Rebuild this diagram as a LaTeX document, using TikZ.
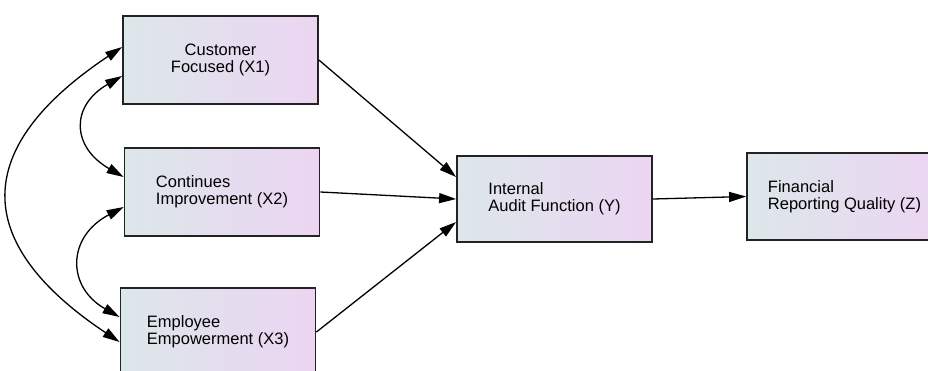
\documentclass[tikz,border=0pt]{standalone}
\usepackage{fontspec}
\setmainfont{Liberation Sans}
\usetikzlibrary{arrows.meta}
\definecolor{boxleft}{RGB}{220,231,234}
\definecolor{boxright}{RGB}{236,213,242}
\definecolor{boxedge}{RGB}{35,35,35}
\tikzset{
  varbox/.style={draw=boxedge, line width=1.8pt, minimum width=195pt, minimum height=88pt,
    left color=boxleft, right color=boxright, inner sep=0pt,
    font=\fontsize{16.5}{17}\selectfont},
  link/.style={line width=1.3pt, -{Triangle[length=17pt,width=10pt]}},
  covar/.style={line width=1.3pt, {Triangle[length=17pt,width=10pt]}-{Triangle[length=17pt,width=10pt]}}
}
\begin{document}
\begin{tikzpicture}[x=1pt,y=-1pt]
\useasboundingbox (0,0) rectangle (928,370);
\node[varbox, align=center] (x1) at (220.5,60) {Customer\\Focused (X1)};
\node[varbox, align=left] (x2) at (222,192) {Continues\\Improvement (X2)};
\node[varbox, align=left] (x3) at (218,332) {Employee\\Empowerment (X3)};
\node[varbox, align=left, minimum height=86pt] (y) at (554.5,199) {Internal\\Audit Function (Y)};
\node[varbox, align=left, minimum height=87pt] (z) at (844.5,196.5) {Financial\\Reporting Quality (Z)};

\draw[link] (x1.east) -- ([yshift=22pt]y.west);
\draw[link] (x2.east) -- (y.west);
\draw[link] (x3.east) -- ([yshift=-23pt]y.west);
\draw[link] (y.east) -- (z.west);

\draw[covar] ([yshift=-16pt]x1.west) .. controls +(-52,30) and +(-52,-30) .. ([yshift=15pt]x2.west);
\draw[covar] ([yshift=-15pt]x2.west) .. controls +(-57,30) and +(-53,-30) .. ([yshift=15pt]x3.west);
\draw[covar] ([yshift=13pt]x1.west) .. controls +(-150,100) and +(-150,-100) .. ([yshift=-10pt]x3.west);
\end{tikzpicture}
\end{document}
